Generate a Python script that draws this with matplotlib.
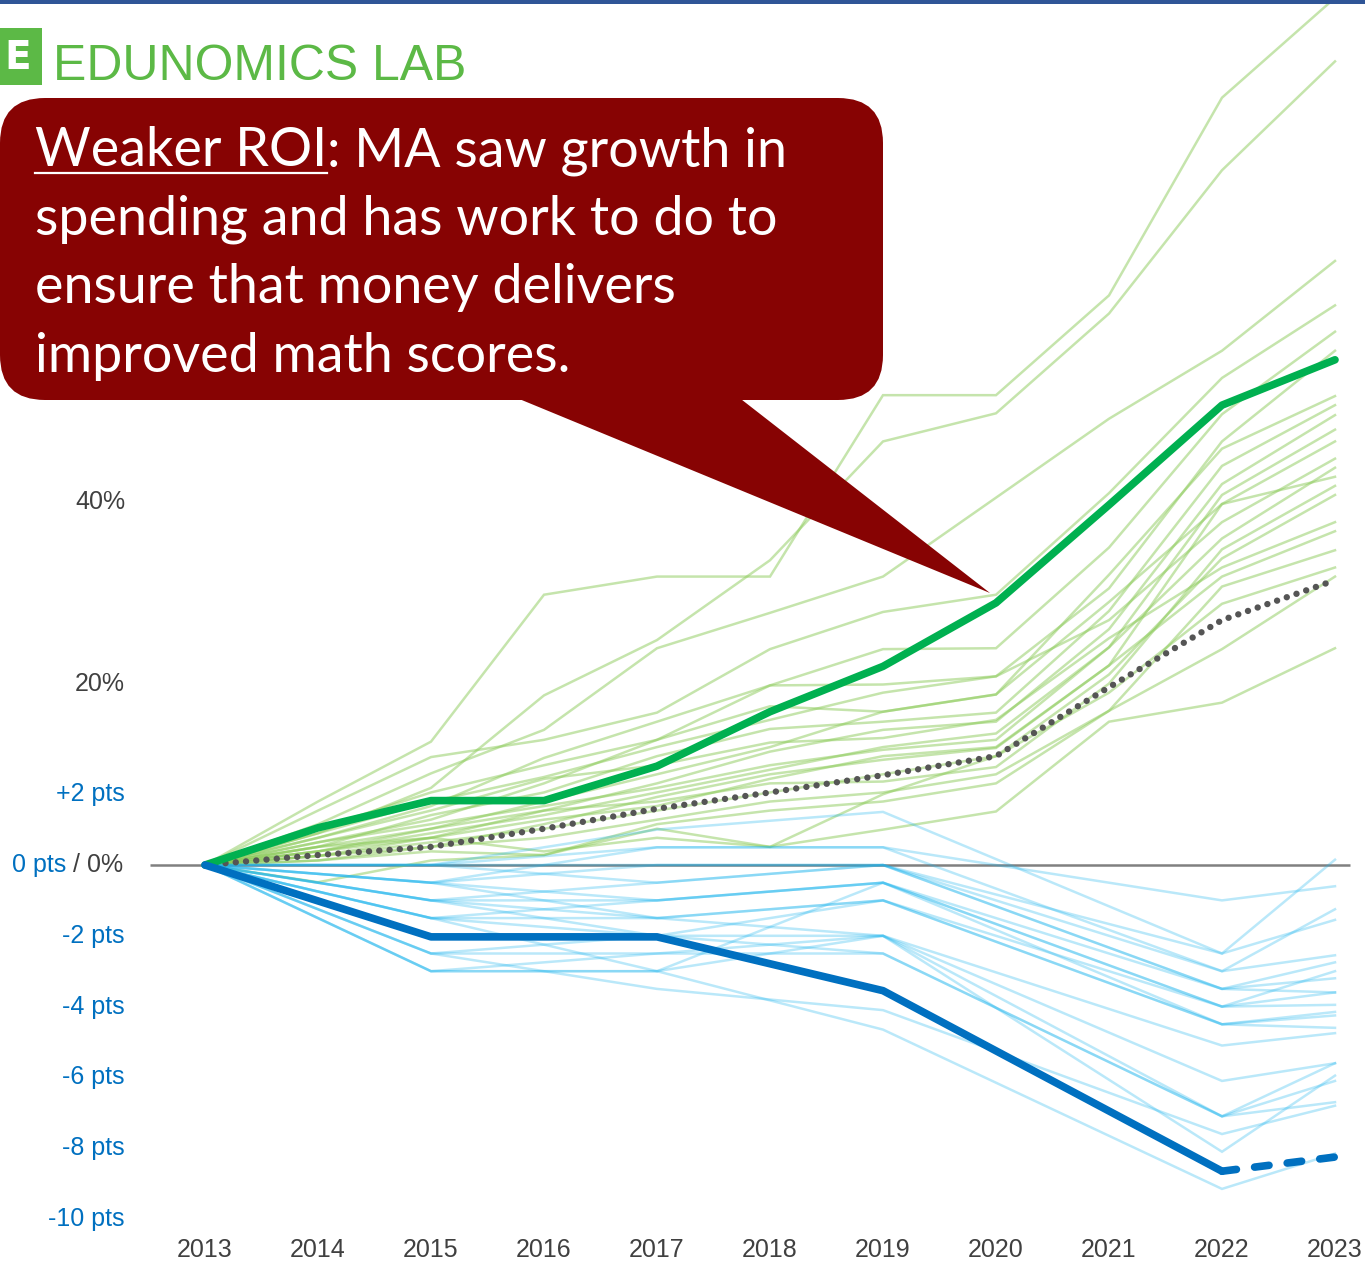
"""
Edunomics Lab style chart: MA spending growth vs. math score change.
Upper half: cumulative spending growth (%), lower half: score change (pts).
"""
import matplotlib
matplotlib.use("Agg")
import matplotlib.pyplot as plt
import matplotlib.transforms as mtrans
from matplotlib.patches import FancyBboxPatch, Polygon, Rectangle

W, H = 1365, 1262

# ---- data -------------------------------------------------------------
SPEND_YEARS = list(range(2013, 2024))
SCORE_YEARS = [2013, 2015, 2017, 2019, 2022, 2023]
X_LABELS = [str(y) for y in SPEND_YEARS]

# cumulative spending growth since 2013, %
ma_spending = [0, 4.1, 7.1, 7.1, 10.9, 16.9, 21.9, 28.9, 39.7, 50.7, 55.7]
us_avg_spending = [0, 1.1, 2.0, 4.0, 6.2, 8.0, 9.9, 12.0, 19.6, 27.0, 31.4]

other_spending = [
    [0, 7.0, 13.6, 29.8, 31.8, 31.8, 51.8, 51.8, 62.8, 84.6, 95.6],
    [0, 3.5, 8.5, 18.7, 24.8, 33.6, 46.7, 49.8, 60.8, 76.6, 88.6],
    [0, 4.5, 10.1, 14.9, 23.9, 27.8, 31.8, 40.5, 49.2, 56.7, 66.6],
    [0, 6.0, 11.9, 13.8, 16.8, 23.8, 27.9, 29.8, 41.0, 53.7, 61.7],
    [0, 2.5, 5.0, 9.0, 13.8, 19.8, 23.8, 23.9, 35.0, 49.7, 58.8],
    [0, 3.0, 6.5, 11.8, 15.8, 19.8, 19.9, 20.8, 30.5, 46.7, 56.7],
    [0, 1.5, 4.0, 7.0, 10.0, 13.0, 16.9, 18.8, 32.0, 45.9, 51.7],
    [0, 2.0, 5.5, 8.0, 12.0, 15.0, 15.8, 16.8, 28.0, 44.0, 50.7],
    [0, 1.0, 3.0, 6.0, 9.0, 12.5, 14.9, 15.8, 26.0, 42.0, 49.6],
    [0, 2.5, 4.5, 6.5, 8.5, 11.0, 12.7, 13.8, 24.0, 40.8, 48.0],
    [0, 0.5, 2.0, 4.5, 7.5, 10.0, 11.6, 12.9, 22.0, 39.8, 46.7],
    [0, 3.5, 7.0, 9.7, 13.0, 16.0, 19.0, 20.8, 27.0, 37.8, 44.8],
    [0, 1.5, 3.5, 5.5, 8.0, 10.5, 13.0, 14.5, 24.0, 36.0, 43.8],
    [0, 4.0, 8.0, 11.0, 13.8, 17.5, 16.9, 18.8, 29.0, 39.8, 42.8],
    [0, 2.0, 4.0, 6.0, 7.0, 9.0, 9.2, 10.8, 20.0, 34.8, 41.8],
    [0, 1.0, 2.5, 4.0, 6.0, 8.0, 10.0, 12.0, 21.0, 33.8, 40.8],
    [0, 3.0, 6.0, 9.5, 11.0, 13.5, 14.0, 16.0, 25.0, 32.8, 37.8],
    [0, 2.0, 3.0, 5.0, 6.5, 9.5, 12.0, 13.0, 22.0, 31.8, 36.8],
    [0, 1.0, 2.0, 3.0, 5.0, 7.0, 8.0, 10.0, 17.0, 30.7, 34.7],
    [0, 0.5, 1.5, 1.1, 4.0, 2.0, 3.9, 5.9, 15.8, 17.9, 23.9],
    [0, 1.5, 3.0, 1.5, 3.0, 2.0, 7.8, 12.0, 19.0, 28.8, 32.8],
    [0, -1.9, 0.5, 1.1, 4.5, 6.0, 7.0, 9.0, 17.0, 23.8, 31.8],
]

# NAEP math score change since 2013, points
ma_math = [0, -2.03, -2.03, -3.55, -8.65, -8.25]

other_math = [
    [0, 0.0, 1.0, 1.5, -2.5, 0.15],
    [0, 0.0, 0.5, 0.5, -1.0, -0.6],
    [0, -0.5, 0.5, 0.5, -3.0, -1.25],
    [0, 0.0, 0.0, 0.0, -2.5, -1.55],
    [0, -0.5, 0.0, 0.0, -3.0, -2.55],
    [0, -1.0, -0.5, 0.0, -3.5, -2.75],
    [0, 0.0, -0.5, 0.0, -3.5, -3.2],
    [0, -0.5, -1.0, -0.5, -4.0, -3.0],
    [0, -1.0, -1.0, -0.5, -3.5, -3.6],
    [0, -1.5, -1.0, -0.5, -4.0, -3.6],
    [0, -1.0, -1.5, -1.0, -4.0, -3.95],
    [0, -1.5, -1.5, -1.0, -4.5, -4.15],
    [0, -3.0, -3.0, -0.5, -4.5, -4.25],
    [0, -1.5, -2.0, -1.0, -4.5, -4.6],
    [0, -2.5, -2.5, -2.0, -5.1, -4.75],
    [0, -2.5, -2.0, -2.0, -6.1, -5.6],
    [0, -0.5, -1.5, -2.0, -7.1, -6.1],
    [0, -3.0, -2.5, -2.5, -7.1, -6.7],
    [0, -1.0, -2.0, -2.5, -7.1, -5.6],
    [0, -2.5, -3.5, -4.1, -7.6, -6.8],
    [0, -1.5, -3.0, -2.0, -8.1, -5.95],
    [0, -3.0, -3.0, -4.65, -9.15, -8.15],
]

PCT_TICKS = [20, 40]
PTS_TICKS = [2, -2, -4, -6, -8, -10]

CALLOUT_LINES = [
    "spending and has work to do to",
    "ensure that money delivers",
    "improved math scores.",
]

# ---- scales -----------------------------------------------------------
PX_PER_YEAR = 113.0
X0_PX = 205.0           # pixel of 2013
ZERO_PX = 865.0         # pixel of the zero line
PX_PER_PCT = 9.07
PX_PER_PT = 35.4
PT = PX_PER_PT / PX_PER_PCT   # one score point in % units

GREEN_MAIN = "#00B050"
GREEN_THIN = "#8CCB5A"
BLUE_MAIN = "#0070C0"
BLUE_THIN = "#1CB4EE"
GRAY_TXT = "#404040"
CALLOUT = "#870303"
LOGO = "#5CB946"

fig = plt.figure(figsize=(W / 100, H / 100), dpi=100)
ax = fig.add_axes([0, 0, 1, 1])
ax.set_xlim(2013 - X0_PX / PX_PER_YEAR, 2013 + (W - X0_PX) / PX_PER_YEAR)
ax.set_ylim(-(H - ZERO_PX) / PX_PER_PCT, ZERO_PX / PX_PER_PCT)
ax.axis("off")

# overlay in pixel coordinates for decorations
ov = fig.add_axes([0, 0, 1, 1], zorder=5)
ov.set_xlim(0, W)
ov.set_ylim(H, 0)
ov.axis("off")
ov.patch.set_alpha(0)

# zero line
ax.hlines(0, 2013 - 55 / PX_PER_YEAR, 2013 + 1145 / PX_PER_YEAR,
          color="#808080", lw=1.8, zorder=1)

for s in other_spending:
    ax.plot(SPEND_YEARS, s, color=GREEN_THIN, lw=1.8, alpha=0.5,
            solid_joinstyle="miter", zorder=2)

for s in other_math:
    ax.plot(SCORE_YEARS, [v * PT for v in s], color=BLUE_THIN, lw=1.8,
            alpha=0.3, solid_joinstyle="miter", zorder=2)

ax.plot(SPEND_YEARS, us_avg_spending, color="#555555", lw=4.6,
        linestyle=(0, (0.01, 1.6)), dash_capstyle="round", zorder=4)

ax.plot(SPEND_YEARS, ma_spending, color=GREEN_MAIN, lw=5.5,
        solid_capstyle="round", solid_joinstyle="round", zorder=5)

ma_pts = [v * PT for v in ma_math]
ax.plot(SCORE_YEARS[:-1], ma_pts[:-1], color=BLUE_MAIN, lw=5.5,
        solid_capstyle="round", solid_joinstyle="round", zorder=5)
ax.plot(SCORE_YEARS[-2:], ma_pts[-2:], color=BLUE_MAIN, lw=5.5,
        linestyle=(0, (1.9, 2.4)), dash_capstyle="round", zorder=5)

# ---- tick labels --------------------------------------------------------
yblend = mtrans.blended_transform_factory(ov.transData, ax.transData)
xblend = mtrans.blended_transform_factory(ax.transData, ov.transData)
TICK_FONT = dict(family=["Liberation Sans", "DejaVu Sans"], fontsize=18)
LABEL_X = 125

for yr, lab in zip(SPEND_YEARS, X_LABELS):
    ax.text(yr, 1250, lab, transform=xblend, ha="center", va="center",
            color=GRAY_TXT, **TICK_FONT)

for p in PCT_TICKS:
    ax.text(LABEL_X, p, f"{p}%", transform=yblend, ha="right", va="center",
            color=GRAY_TXT, **TICK_FONT)

for p in PTS_TICKS:
    lab = f"+{p} pts" if p > 0 else f"{p} pts"
    ax.text(LABEL_X, p * PT, lab, transform=yblend, ha="right", va="center",
            color=BLUE_MAIN, **TICK_FONT)

fig.canvas.draw()
r = fig.canvas.get_renderer()

t0 = ax.text(LABEL_X - 2, 0, " / 0%", transform=yblend, ha="right",
             va="center", color=GRAY_TXT, **TICK_FONT)
w0 = t0.get_window_extent(renderer=r).width
ax.text(LABEL_X - 2 - w0, 0, "0 pts", transform=yblend, ha="right",
        va="center", color=BLUE_MAIN, **TICK_FONT)

# ---- decorations ----------------------------------------------------------
ov.add_patch(Rectangle((0, 0), W, 3.5, color="#2F5597", lw=0))

# logo
ov.add_patch(Rectangle((0, 28), 42, 57, color=LOGO, lw=0))
ov.text(18, 58, "E", color="white", fontsize=28, fontweight="bold",
        family="DejaVu Sans", ha="center", va="center")

logo_font = ["Liberation Sans Narrow", "Liberation Sans"]
probe = ov.text(0, 0, "EDUNOMICS LAB", fontsize=40, family=logo_font)
lw_px = probe.get_window_extent(renderer=r).width
probe.remove()
ov.text(53, 80, "EDUNOMICS LAB", color=LOGO, family=logo_font,
        fontsize=40 * 412 / lw_px, ha="left", va="baseline")

# callout
ov.add_patch(FancyBboxPatch((0, 98), 883, 302,
                            boxstyle="round,pad=0,rounding_size=45",
                            fc=CALLOUT, ec="none"))
ov.add_patch(Polygon([(512, 396), (737, 396), (990, 593)], closed=True,
                     fc=CALLOUT, ec="none"))

call_font = ["Lato", "DejaVu Sans"]
probe = ov.text(0, 0, "spending and has work to do to", fontsize=36,
                family=call_font)
cw = probe.get_window_extent(renderer=r).width
probe.remove()
cfs = 36 * 744 / cw

t_head = ov.text(35, 166, "Weaker ROI", color="white", fontsize=cfs,
                 family=call_font, ha="left", va="baseline")
hw = t_head.get_window_extent(renderer=r).width
ov.plot([35, 35 + hw], [173, 173], color="white", lw=1.6)
ov.text(35 + hw, 166, ": MA saw growth in", color="white", fontsize=cfs,
        family=call_font, ha="left", va="baseline")

for i, line in enumerate(CALLOUT_LINES):
    ov.text(35, 235 + i * 68.5, line, color="white", fontsize=cfs,
            family=call_font, ha="left", va="baseline")

fig.savefig("out.png", dpi=100)
